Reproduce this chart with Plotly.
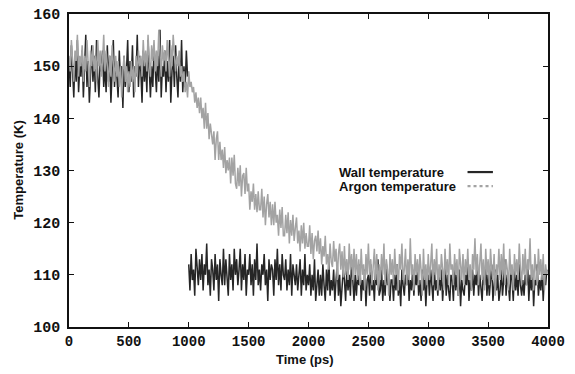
import numpy as np
import plotly.graph_objects as go

# sample spacing of the hand-read traces (ps)
dt = 10

wall_early = [
    151,146,154,148,144,152,147,155,145,150,
    148,153,144,150,156,146,151,143,149,154,
    147,152,145,155,148,144,151,149,153,146,
    150,145,154,147,152,143,149,155,146,151,
    148,144,153,147,150,142,152,146,149,155,
    145,151,147,154,144,150,148,156,146,152,
    149,143,153,147,151,145,155,148,144,150,
    146,154,149,145,152,147,157,144,150,148,
    153,145,151,147,155,143,149,152,146,154,
    148,144,152,147,155,145,150,146,153,148,
]

wall_late = [
    112,107,114,109,111,106,115,110,108,113,
    109,114,107,112,110,116,108,111,106,113,
    111,107,114,109,112,105,113,110,108,115,
    108,113,110,106,114,109,112,107,115,110,
    113,108,111,115,107,112,109,114,106,111,
    110,114,108,112,106,113,109,116,108,111,
    107,112,110,114,108,111,105,113,109,112,
    111,106,113,109,115,108,112,107,114,110,
    109,113,107,111,108,114,106,112,110,108,
    112,107,110,113,106,111,108,114,107,110,
    108,112,106,110,107,113,105,109,111,106,
    110,106,112,108,105,111,107,113,106,109,
    107,111,105,109,112,106,110,104,108,111,
    109,105,111,107,110,106,113,108,105,110,
    106,110,108,112,105,109,107,111,104,109,
    110,106,112,107,109,105,111,108,113,106,
    107,111,105,109,106,112,108,110,105,109,
    109,105,110,107,112,106,109,104,111,108,
    106,110,108,112,105,109,107,111,106,110,
    108,112,106,109,105,111,107,110,104,109,
    110,106,111,108,105,112,107,109,106,111,
    107,111,105,109,112,106,110,107,105,110,
    109,105,112,107,110,106,111,104,109,107,
    106,110,108,113,105,109,107,111,106,110,
    108,112,106,110,107,105,111,108,112,106,
    110,106,109,112,105,108,111,107,110,105,
    107,111,106,109,113,106,110,108,105,111,
    109,105,111,107,110,106,112,108,106,109,
    106,110,108,112,105,110,107,111,104,109,
    108,112,106,109,107,111,105,110,108,111,
]

argon = [
    152,149,155,150,147,153,151,156,148,152,
    150,154,147,152,149,155,151,146,153,150,
    154,149,152,147,155,150,153,148,151,156,
    149,153,150,146,152,148,154,150,147,152,
    148,151,146,150,144,149,152,147,150,145,
    149,146,151,147,150,145,152,148,153,150,
    152,148,155,150,153,149,156,151,148,154,
    151,155,149,153,150,157,152,148,154,151,
    153,149,155,151,148,154,150,156,152,149,
    152,150,153,148,150,147,149,145,147,144,
    149,146,147,145,146,143,145,142,144,141,
    144,140,142,138,143,138,141,136,139,137,
    135,137.5,132,136,137.5,132,135.5,132,134,130.5,
    134.5,129.5,132,130,132.5,127.5,132.5,129,133,127.5,
    126.5,130.5,127,131,125,129,129.5,125.5,130.5,126,
    127.5,122.5,126,124,127.5,122.5,125.5,122,126,122.5,
    122.5,126.5,121,125,119.5,123.5,125.5,121,124,119.5,
    123.5,119.5,124,120,121.5,117.5,122.5,119,123,117.5,
    117.5,121.5,118,122,116,120.5,117.5,121.5,116.5,119,
    121,116,118.5,114.5,119.5,116,120,115,118,115.5,
    115.5,119.5,114,118,113,116.5,117.5,114.5,118.5,114,
    117,112,115.5,113.5,117.5,112,114,111,116,112.5,
    111.5,116.5,112.5,115,109,114,116,111,114.5,109.5,
    115.5,110,113,109,116,111,114,109,115,110,
    114,109,113,108,115,110,112,107,114,110,
    116,110,113,108,112,115,109,114,107,112,
    109,114,110,116,108,113,111,106,114,110,
    113,108,115,110,112,107,114,111,116,109,
    111,115,108,113,109,117,110,112,107,114,
    110,113,108,114,111,106,115,109,112,108,
    114,109,112,116,108,113,110,115,107,112,
    109,114,111,107,115,110,113,108,116,111,
    112,108,114,110,113,106,115,111,109,114,
    108,113,110,115,109,112,107,114,111,117,
    110,114,108,112,116,109,113,107,115,110,
    113,108,115,111,109,114,106,112,110,115,
    109,114,110,116,108,113,111,107,115,110,
    112,107,114,110,113,109,116,111,108,114,
    110,115,108,113,111,117,109,112,107,114,
    111,108,115,110,113,109,114,107,112,110,
]

t_early = np.arange(len(wall_early)) * dt
t_late = 1000 + np.arange(len(wall_late)) * dt
t_argon = np.arange(len(argon)) * dt

wall_t = list(t_early) + [None] + list(t_late)
wall_v = wall_early + [None] + wall_late

x_ticks = [0, 500, 1000, 1500, 2000, 2500, 3000, 3500, 4000]
y_ticks = [100, 110, 120, 130, 140, 150, 160]
series_names = ["Wall temperature", "Argon temperature"]
series_colors = ["#262626", "#a3a3a3"]

fig = go.Figure()
fig.add_trace(go.Scatter(x=wall_t, y=wall_v, mode="lines", name=series_names[0],
                         line=dict(color=series_colors[0], width=1.5),
                         connectgaps=False, showlegend=False))
fig.add_trace(go.Scatter(x=t_argon, y=argon, mode="lines", name=series_names[1],
                         line=dict(color=series_colors[1], width=1.5),
                         showlegend=False))

tickfont = dict(family="Liberation Mono", size=15, color="#111", weight="bold")
xtickfont = dict(family="Liberation Mono", size=14, color="#111", weight="bold")
fig.update_xaxes(range=[0, 4000], tickvals=x_ticks, ticks="inside", ticklen=5,
                 tickwidth=1.3, tickcolor="#111", showline=True, linewidth=1.5,
                 linecolor="#111", mirror="ticks", showgrid=False, zeroline=False,
                 tickfont=xtickfont, ticklabelstandoff=0)
fig.update_yaxes(range=[100, 160], tickvals=y_ticks, ticks="inside", ticklen=5,
                 tickwidth=1.3, tickcolor="#111", showline=True, linewidth=1.5,
                 linecolor="#111", mirror="ticks", showgrid=False, zeroline=False,
                 tickfont=tickfont, ticklabelstandoff=4)

title_font = dict(family="Liberation Sans", size=13, color="#111", weight="bold")
annotations = [
    dict(text="Time (ps)", xref="paper", yref="paper", x=0.493, y=-0.103,
         xanchor="center", yanchor="middle", showarrow=False, font=title_font),
    dict(text="Temperature (K)", xref="paper", yref="paper", x=-0.106, y=0.5,
         xanchor="center", yanchor="middle", textangle=-90, showarrow=False,
         font=title_font),
]
# legend (text left, line sample right, as in the reference)
leg_y = [0.495, 0.45]
for name, yy in zip(series_names, leg_y):
    annotations.append(dict(text=name, xref="paper", yref="paper", x=0.559, y=yy,
                            xanchor="left", yanchor="middle", showarrow=False,
                            font=title_font))
fig.update_layout(annotations=annotations)
for col, yy, dash in zip(series_colors, leg_y, ["solid", "dot"]):
    fig.add_shape(type="line", xref="paper", yref="paper", x0=0.832, x1=0.885,
                  y0=yy, y1=yy, line=dict(color=col, width=2.2, dash=dash))

fig.update_layout(width=575, height=374,
                  margin=dict(l=69, r=27, t=14, b=47, autoexpand=False),
                  paper_bgcolor="white", plot_bgcolor="white")

fig.write_html("out.html")
